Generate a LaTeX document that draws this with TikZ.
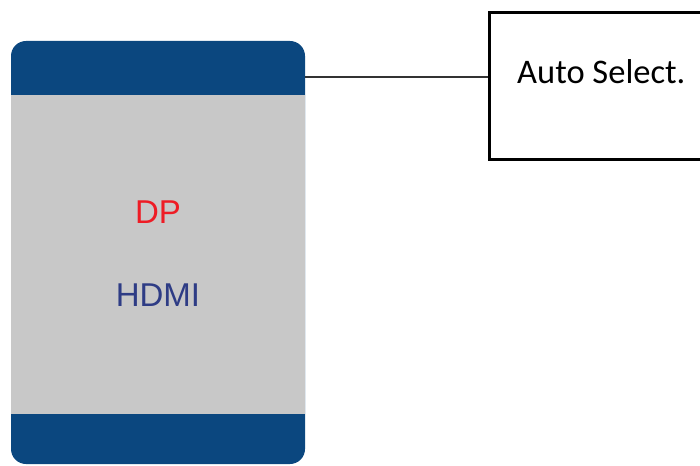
\documentclass[tikz,border=0pt]{standalone}
\usepackage{fontspec}
\setmainfont{Liberation Sans}
\newfontfamily\calibri{Carlito}
\usetikzlibrary{positioning, calc}

\definecolor{bandblue}{HTML}{0B477F}
\definecolor{panelgray}{HTML}{C8C8C8}
\definecolor{hdmiblue}{HTML}{2E3C85}
\definecolor{dpred}{HTML}{EE1C25}

\begin{document}
\begin{tikzpicture}[x=1pt, y=-1pt]
\useasboundingbox (0,0) rectangle (700,465);

% Source panel
\node[draw=none, fill=bandblue, rounded corners=15pt, minimum width=294pt,
      minimum height=423pt, inner sep=0pt] (panel) at (158,252.5) {};
\fill[panelgray] (11,95) rectangle (305,414);
\coordinate (port) at (305,77);

% Inputs
\node[font=\fontsize{33}{36}\selectfont, text=dpred] (dp) at (158,212) {DP};
\node[font=\fontsize{33}{36}\selectfont, text=hdmiblue] (hdmi) at (158,295) {HDMI};

% Note box
\node[draw, line width=3pt, minimum width=240pt, minimum height=147pt,
      inner sep=0pt, anchor=north west] (note) at (488,11) {};
\node[font=\calibri\fontsize{34.5}{38}\selectfont, anchor=west, inner sep=0pt]
      (autosel) at (517,72) {Auto Select.};

\draw[line width=2.2pt, black!80] (port) -- (port -| note.west);
\end{tikzpicture}
\end{document}
